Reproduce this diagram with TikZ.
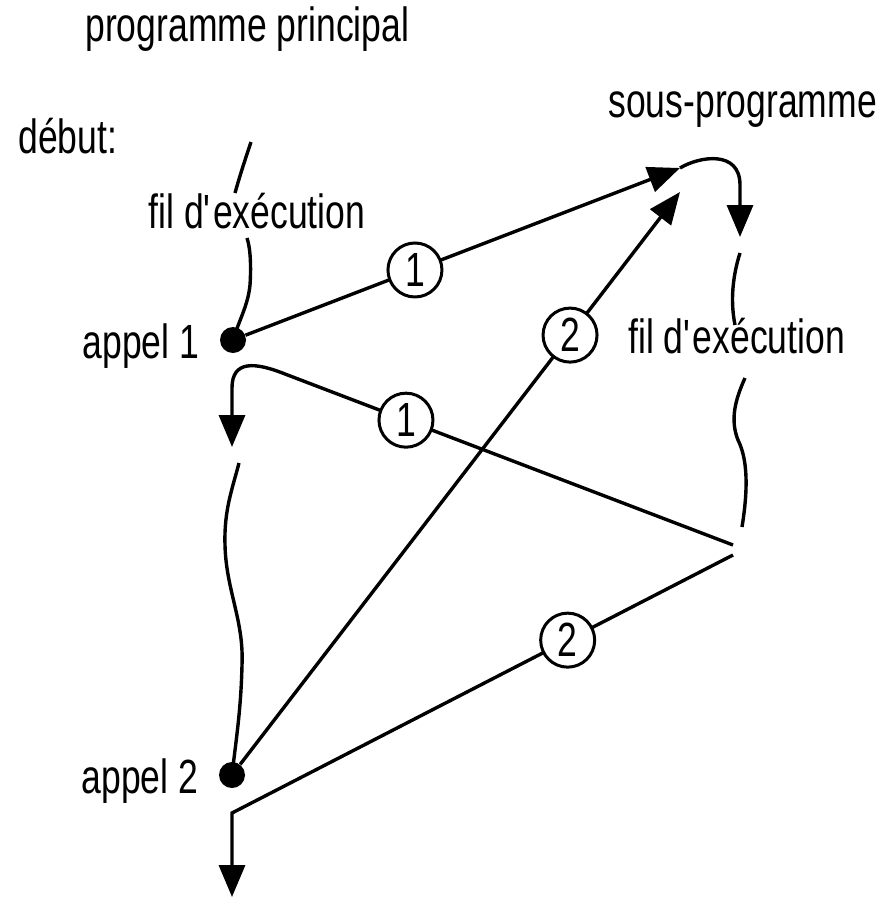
\documentclass[tikz,border=0pt]{standalone}
\usepackage{fontspec}
\setmainfont[FakeStretch=0.74]{Liberation Sans}
\usetikzlibrary{arrows.meta, positioning}
\tikzset{
  flow/.style={line width=1.7pt, color=black},
  flowarrow/.style={flow, -{Triangle[length=16pt, width=13pt]}},
  calldot/.style={circle, fill=black, inner sep=0pt, minimum size=13pt},
  stepnum/.style={circle, draw=black, fill=white, line width=1.5pt,
    minimum size=27pt, inner sep=0pt, font=\fontsize{24}{28}\selectfont},
  lbl/.style={inner sep=0pt, font=\fontsize{24}{28}\selectfont}
}

\begin{document}
\begin{tikzpicture}[x=0.5pt, y=-0.5pt]
  \useasboundingbox (0,0) rectangle (877,900);

  % titles and labels
  \node[lbl, anchor=base west] (mainttl) at (85,41) {programme principal};
  \node[lbl, anchor=base west] (debut) at (18,153) {début:};
  \node[lbl, anchor=base west] (subttl) at (608,117) {sous-programme};
  \node[lbl, anchor=base] (mainfil) at (257,228) {fil d\textquotesingle exécution};
  \node[lbl, anchor=base west] (subfil) at (628,353) {fil d\textquotesingle exécution};

  % call points of the main program
  \node[calldot] (appelA) at (233,340) {};
  \node[calldot] (appelB) at (232,775) {};
  \node[lbl, left=10pt of appelA, yshift=-3pt] {appel 1};
  \node[lbl, left=10pt of appelB, yshift=-3pt] {appel 2};

  % end points
  \coordinate (subin) at (680,168);
  \coordinate (subinB) at (680,192);
  \coordinate (retA) at (733,545);
  \coordinate (retB) at (733,555);
  \coordinate (mainA) at (232,447);
  \coordinate (mainEnd) at (232,897);
  \coordinate (subdown) at (740,237);

  % main program thread
  \draw[flow] (251,142) .. controls (245,160) and (240,175) .. (235,193);
  \draw[flow] (247,238) .. controls (251,250) and (251,270) .. (250,285)
    .. controls (248,305) and (240,318) .. (appelA.center);
  \draw[flow] (239,463) .. controls (232,490) and (224,510) .. (225,545)
    .. controls (226,590) and (244,620) .. (242,665)
    .. controls (241,710) and (236,740) .. (appelB.center);

  % sub-program thread
  \draw[flowarrow] (subin) .. controls (700,156) and (740,150) .. (740,185) -- (subdown);
  \draw[flow] (740,253) .. controls (733,275) and (730,300) .. (735,325);
  \draw[flow] (745,378) .. controls (735,400) and (730,420) .. (738,440)
    .. controls (748,460) and (748,490) .. (742,527);

  % calls
  \draw[flowarrow] (appelA) -- node[stepnum, pos=0.39] (callA) {1} (subin);
  \draw[flowarrow] (appelB) -- node[stepnum, pos=0.75] (callB) {2} (subinB);

  % returns
  \draw[flowarrow] (retA) -- node[stepnum, pos=0.73] (backA) {1} (285,374)
    .. controls (255,362) and (232,360) .. (232,388) -- (mainA);
  \draw[flowarrow] (retB) -- node[stepnum, pos=0.33] (backB) {2} (232,813) -- (mainEnd);
\end{tikzpicture}
\end{document}
